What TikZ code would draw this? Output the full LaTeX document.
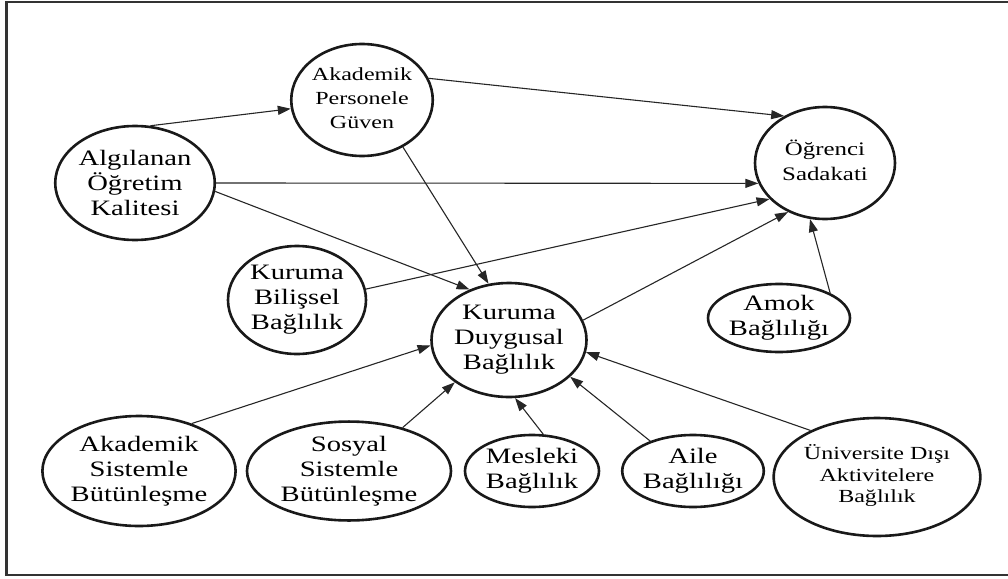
\documentclass[tikz,border=0pt]{standalone}
\usepackage{fontspec}
\usepackage{graphicx}
\setmainfont{Liberation Serif}[FakeStretch=1.3]
\usetikzlibrary{shapes.geometric,arrows.meta}
% a block of centred lines, set at the common size and then shrunk
\newcommand\shrunktext[3]{\scalebox{#1}{\fontsize{22}{#2}\selectfont
  \begin{tabular}{@{}c@{}}#3\end{tabular}}}

\begin{document}
\begin{tikzpicture}[x=1pt,y=-1pt,
  var/.style={ellipse, draw=black!90, line width=2.6pt, inner sep=0pt,
    align=center, font={\fontsize{22}{25}\selectfont}},
  link/.style={line width=1.1pt, draw=black!85,
    -{Triangle[length=13pt,width=9pt]}}
]
\useasboundingbox (0,0) rectangle (1008,578);
% outer frame (its right side runs past the page edge)
\draw[line width=2.6pt, draw=black!80] (6.5,2) rectangle (1020,575);

% variables
\node[var, minimum width=138, minimum height=114] (alg) at (135,183)
  {Algılanan\\Öğretim\\Kalitesi};
\node[var, minimum width=130, minimum height=112] (akpg) at (362,100)
  {\shrunktext{0.84}{28.5}{Akademik\\Personele\\Güven}};
\node[var, minimum width=140, minimum height=112] (ogr) at (825,163)
  {\shrunktext{0.87}{28.7}{Öğrenci\\Sadakati}};
\node[var, minimum width=138, minimum height=108] (kb) at (297,300)
  {Kuruma\\Bilişsel\\Bağlılık};
\node[var, minimum width=150, minimum height=114] (kd) at (509,340)
  {Kuruma\\Duygusal\\Bağlılık};
\node[var, minimum width=142, minimum height=68] (amok) at (779,318)
  {Amok\\Bağlılığı};
\node[var, minimum width=190, minimum height=110] (aks) at (139,471)
  {Akademik\\Sistemle\\Bütünleşme};
\node[var, minimum width=204, minimum height=92] (sos) at (349,471)
  {Sosyal\\Sistemle\\Bütünleşme};
\node[var, minimum width=134, minimum height=72] (mes) at (532,471)
  {Mesleki\\Bağlılık};
\node[var, minimum width=134, minimum height=72] (aile) at (693,471)
  {Aile\\Bağlılığı};
\node[var, minimum width=190, minimum height=118] (univ) at (877,477)
  {\shrunktext{0.84}{25.6}{Üniversite Dışı\\Aktivitelere\\Bağlılık}};

% paths
\draw[link] (alg.75) -- (akpg.187);
\draw[link] (akpg.18) -- (ogr.131);
\draw[link] (alg.0) -- (ogr.197);
\draw[link] (alg.-6) -- (kd.128);
\draw[link] (akpg.-49) -- (kd.110);
\draw[link] (kb.9) -- (ogr.213);
\draw[link] (kd.15) -- (ogr.233);
\draw[link] (amok.26) -- (ogr.255);
\draw[link] (aks.42) -- (kd.184);
\draw[link] (sos.39) -- (kd.218);
\draw[link] (mes.73) -- (kd.276);
\draw[link] (aile.145) -- (kd.329);
\draw[link] (univ.145) -- (kd.351);
\end{tikzpicture}
\end{document}
